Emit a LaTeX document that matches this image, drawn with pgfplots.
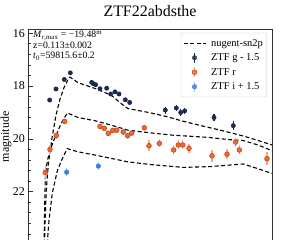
\documentclass[border=0pt]{standalone}
\usepackage{pgfplots}
\pgfplotsset{compat=1.18}
\usepackage{fontspec}
\setmainfont{Liberation Serif}
\definecolor{gcol}{HTML}{1A2A50}
\definecolor{rfill}{HTML}{EE6A35}
\definecolor{redge}{HTML}{C4461C}
\definecolor{rerr}{HTML}{F6A882}
\definecolor{icol}{HTML}{3B7DD8}
\definecolor{ierr}{HTML}{9DC2F0}
\definecolor{axgray}{HTML}{333333}
\begin{document}
\begin{tikzpicture}
\begin{axis}[
  at={(0,0)}, anchor=north west,
  scale only axis, width=244bp, height=215.2bp,
  xmin=28, xmax=272, ymin=15.85, ymax=24, y dir=reverse,
  axis line style={axgray, line width=0.8bp},
  every tick/.style={axgray, line width=0.7bp},
  tick align=inside,
  major tick length=4.5bp, minor tick length=2.5bp,
  ytick={16,18,20,22,24}, minor y tick num=4,
  ytick pos=left, xtick pos=bottom, xtick=\empty,
  /pgf/number format/assume math mode=true,
  yticklabel style={font=\fontsize{12}{14}\selectfont, inner sep=1bp, xshift=-2bp},
  ylabel={magnitude},
  ylabel style={at={(axis description cs:-0.078,0.5)}, anchor=base, font=\fontsize{12}{14}\selectfont, inner sep=0pt},
  title={ZTF22abdsthe},
  every axis title shift=0pt,
  title style={at={(0.5,1)}, anchor=south, yshift=12.6bp, inner sep=0pt, font=\fontsize{16}{18}\selectfont},
  legend style={
    at={(1,1)}, anchor=north east, xshift=-5bp, yshift=-3.5bp,
    draw=black!20, rounded corners=2bp, fill=white, fill opacity=0.8, text opacity=1,
    font=\fontsize{10.5}{12}\selectfont,
    inner xsep=2bp, inner ysep=3bp, row sep=0bp, column sep=3bp,
    nodes={inner sep=2bp, text height=8bp, text depth=2.5bp},
  },
  legend cell align=left,
  clip=true,
]
% models
\addplot[black, line width=1.1bp, dash pattern=on 4bp off 2.5bp,
  legend image code/.code={\draw (0bp,0bp)--(22bp,0bp);}] coordinates {
(44.3,24.21) (45,23.27) (45.8,22.32) (47,21.56) (48.5,20.92) (52,19.97) (56,19.10) (60,18.49) (64,18.06) (68,17.75) (70,17.66)
(78,17.87) (95,18.09) (111,18.34) (125,18.78) (128,18.85) (150,19.01) (167,19.16) (183,19.33) (200,19.49) (217,19.64) (233,19.79) (245,19.91) (258,20.06) (272,20.23)
};
\addlegendentry{nugent-sn2p}
\addplot[black, line width=1.1bp, dash pattern=on 4bp off 2.5bp, forget plot] coordinates {
(44,24.22) (44.3,23.45) (44.8,22.32) (45.3,21.48) (46.5,21.03) (48,20.73) (50,20.46) (53,20.12) (56.5,19.82) (60,19.52) (63.5,19.25) (67.5,19.02)
(78,19.19) (94.7,19.31) (111.3,19.48) (128,19.67) (150,19.77) (173,19.86) (207,19.94) (230,20.03) (243,20.06) (258,20.23) (272,20.45)
};
\addplot[black, line width=1.1bp, dash pattern=on 4bp off 2.5bp, forget plot] coordinates {
(46.8,24.21) (47.5,23.83) (49,23.08) (52.3,22.05) (57.5,21.18) (63,20.69) (67.3,20.37)
(78,20.49) (94.7,20.61) (111.3,20.74) (128,20.87) (150,20.97) (183.3,21.08) (210,21.05) (243.3,20.95) (258,21.13) (272,21.31)
};
% g
\addplot[only marks, mark=*, mark size=2.2bp, color=gcol, mark options={fill=gcol, draw=gcol},
  error bars/.cd, y dir=both, y explicit, error mark=none,
  error bar style={gcol, line width=1.2bp},
  /pgfplots/legend image code/.code={\draw[gcol, line width=1.2bp] (11bp,-5bp)--(11bp,5bp); \draw[mark repeat=2, mark phase=2] plot coordinates {(0bp,0bp)(11bp,0bp)(22bp,0bp)};}
] table[x=x, y=y, y error=e] {
x y e
49.7 18.53 0.08
56 18.11 0.07
64.3 17.75 0.06
70.3 17.50 0.05
91.7 17.86 0.05
93.3 17.91 0.05
95.7 17.95 0.05
100 18.10 0.06
106.7 18.08 0.06
110.7 18.30 0.07
115 18.22 0.07
119 18.30 0.07
125.3 18.52 0.08
129.7 18.62 0.08
165.3 18.91 0.13
176.3 18.83 0.12
180.7 19.00 0.14
184.7 18.94 0.12
214 19.19 0.14
233.3 19.50 0.17
};
\addlegendentry{ZTF g - 1.5}
% r
\addplot[only marks, mark=*, mark size=2.4bp, color=rfill, mark options={fill=rfill, draw=redge, line width=0.6bp},
  error bars/.cd, y dir=both, y explicit, error mark=none,
  error bar style={rerr, line width=1.2bp},
  /pgfplots/legend image code/.code={\draw[rerr, line width=1.2bp] (11bp,-5bp)--(11bp,5bp); \draw[mark repeat=2, mark phase=2] plot coordinates {(0bp,0bp)(11bp,0bp)(22bp,0bp)};}
] table[x=x, y=y, y error=e] {
x y e
45.3 21.27 0.28
50 20.40 0.18
56.3 19.87 0.12
64.7 19.34 0.08
100 19.53 0.10
104.3 19.60 0.10
108.3 19.79 0.10
112.7 19.68 0.10
116.7 19.67 0.10
123.3 19.74 0.10
127.7 19.88 0.12
131.7 19.78 0.12
144.3 19.58 0.10
149 20.26 0.20
159.3 20.17 0.15
173.7 20.42 0.20
178.3 20.23 0.17
182.7 20.23 0.17
189 20.36 0.17
212 20.64 0.22
227 20.58 0.20
235.7 20.12 0.17
239.3 20.42 0.17
267 20.75 0.25
};
\addlegendentry{ZTF r}
% i
\addplot[only marks, mark=*, mark size=2.3bp, color=icol, mark options={fill=icol, draw=icol},
  error bars/.cd, y dir=both, y explicit, error mark=none,
  error bar style={ierr, line width=1.2bp},
  /pgfplots/legend image code/.code={\draw[ierr, line width=1.2bp] (11bp,-5bp)--(11bp,5bp); \draw[mark repeat=2, mark phase=2] plot coordinates {(0bp,0bp)(11bp,0bp)(22bp,0bp)};}
] table[x=x, y=y, y error=e] {
x y e
66.7 21.26 0.14
98.3 21.03 0.14
};
\addlegendentry{ZTF i + 1.5}
\node[anchor=north west, align=left, inner sep=0pt, xshift=5bp, yshift=-1.5bp,
  font=\fontsize{9.8}{10.5}\selectfont] at (axis description cs:0,1)
  {\textit{M}\textsubscript{\textit{r},max} = −19.48\textsuperscript{m}\\z=0.113±0.002\\\textit{t}\textsubscript{0}=59815.6±0.2};
\end{axis}
\pgfresetboundingbox
\path[use as bounding box] (-28bp,29.3bp) rectangle (258bp,-210.7bp);
\end{tikzpicture}
\end{document}
